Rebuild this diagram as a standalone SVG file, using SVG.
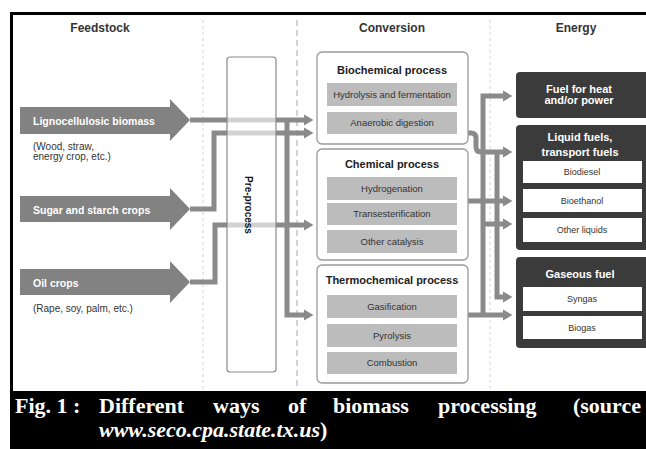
<svg xmlns="http://www.w3.org/2000/svg" width="646" height="449" viewBox="0 0 646 449">
<defs>
<style>
.hdr{font-family:"Liberation Sans",Arial,sans-serif;font-weight:bold;font-size:12px;fill:#333;text-anchor:middle}
.fs{fill:#828282}
.fsl{font-family:"Liberation Sans",Arial,sans-serif;font-weight:bold;font-size:10.5px;fill:#fff}
.note{font-family:"Liberation Sans",Arial,sans-serif;font-size:10px;fill:#333}
.cbox{fill:#fff;stroke:#9a9a9a;stroke-width:1.3}
.ctitle{font-family:"Liberation Sans",Arial,sans-serif;font-weight:bold;font-size:11px;fill:#222;text-anchor:middle}
.sub{fill:#bcbcbc}
.subt{font-family:"Liberation Sans",Arial,sans-serif;font-size:9.5px;fill:#333;text-anchor:middle}
.ebox{fill:#3b3b3b}
.etitle{font-family:"Liberation Sans",Arial,sans-serif;font-weight:bold;font-size:11px;fill:#fff;text-anchor:middle}
.wbox{fill:#fff}
.wt{font-family:"Liberation Sans",Arial,sans-serif;font-size:9px;fill:#333;text-anchor:middle}
.conn{fill:none;stroke:#8a8a8a;stroke-width:5;marker-end:url(#ah)}
.cap{font-family:"Liberation Serif","Times New Roman",serif;font-weight:bold;font-size:22px;fill:#fff}
</style>
<marker id="ah" markerUnits="userSpaceOnUse" markerWidth="10" markerHeight="12" refX="0" refY="6" orient="auto" viewBox="0 0 10 12">
<path d="M0,0.5 L9.5,6 L0,11.5 z" fill="#8a8a8a"/>
</marker>
</defs>
<rect x="0" y="0" width="646" height="449" fill="#fff"/>
<path d="M11.5,392 V13.5 H646" fill="none" stroke="#000" stroke-width="3"/>
<g id="dividers">
<line x1="203" y1="20" x2="203" y2="389" stroke="#d4d4d4" stroke-width="1" stroke-dasharray="3 3"/>
<line x1="297" y1="20" x2="297" y2="389" stroke="#a8a8a8" stroke-width="1" stroke-dasharray="6 4"/>
<line x1="490" y1="20" x2="490" y2="389" stroke="#d4d4d4" stroke-width="1" stroke-dasharray="3 3"/>
</g>
<g id="headers">
<text class="hdr" x="100" y="32">Feedstock</text>
<text class="hdr" x="392" y="32">Conversion</text>
<text class="hdr" x="576" y="32">Energy</text>
</g>
<g id="connectors">
<path class="conn" d="M190,120 H304"/>
<path class="conn" d="M190,209 H214 V133 H304"/>
<path class="conn" d="M287,120 V315 H304"/>
<path class="conn" d="M190,282 H215 V225 H304"/>
<path class="conn" d="M468,315 H503"/>
<path class="conn" d="M483,315 V96 H503"/>
<path class="conn" d="M468,133 H471 Q476,133 476,138 V147 Q476,152 481,152 H503"/>
<path class="conn" d="M497,152 V297 H503"/>
<path class="conn" d="M468,201 H503"/>
<path class="conn" d="M483,224 H503"/>
</g>
<g id="lignocellulosic">
<path class="fs" d="M20,107 H170 V99 L190,120 L170,141 V134 H20 z"/>
<text class="fsl" x="33" y="125">Lignocellulosic biomass</text>
<text class="note" x="33" y="149.5">(Wood, straw,</text>
<text class="note" x="33" y="160">energy crop, etc.)</text>
</g>
<g id="sugar">
<path class="fs" d="M20,196 H170 V188 L190,209 L170,230 V222 H20 z"/>
<text class="fsl" x="33" y="213.5">Sugar and starch crops</text>
</g>
<g id="oil">
<path class="fs" d="M20,269 H170 V261 L190,282 L170,303 V295 H20 z"/>
<text class="fsl" x="33" y="286.5">Oil crops</text>
<text class="note" x="33" y="312">(Rape, soy, palm, etc.)</text>
</g>
<g id="preprocess">
<rect x="227" y="57" width="49" height="315" rx="3" fill="#fff" fill-opacity="0.62" stroke="#8a8a8a" stroke-width="1.2"/>
<text transform="translate(248,205) rotate(90)" font-family="Liberation Sans, Arial, sans-serif" font-weight="bold" font-size="10" fill="#111" text-anchor="middle" dominant-baseline="central">Pre-process</text>
</g>
<g id="biochemical">
<rect class="cbox" x="317" y="52" width="151" height="92" rx="5"/>
<text class="ctitle" x="392" y="74">Biochemical process</text>
<rect class="sub" x="327" y="83" width="130" height="23"/>
<text class="subt" x="392" y="97.5" font-size="8.5">Hydrolysis and fermentation</text>
<rect class="sub" x="327" y="112" width="130" height="22"/>
<text class="subt" x="392" y="126.3">Anaerobic digestion</text>
</g>
<g id="chemical">
<rect class="cbox" x="317" y="149" width="151" height="111" rx="5"/>
<text class="ctitle" x="392" y="168">Chemical process</text>
<rect class="sub" x="327" y="177" width="130" height="23"/>
<text class="subt" x="392" y="191.8">Hydrogenation</text>
<rect class="sub" x="327" y="203" width="130" height="22"/>
<text class="subt" x="392" y="217.3">Transesterification</text>
<rect class="sub" x="327" y="230" width="130" height="23"/>
<text class="subt" x="392" y="244.8">Other catalysis</text>
</g>
<g id="thermochemical">
<rect class="cbox" x="317" y="265" width="151" height="118" rx="5"/>
<text class="ctitle" x="392" y="284">Thermochemical process</text>
<rect class="sub" x="327" y="295" width="130" height="23"/>
<text class="subt" x="392" y="309.8">Gasification</text>
<rect class="sub" x="327" y="324" width="130" height="23"/>
<text class="subt" x="392" y="338.8">Pyrolysis</text>
<rect class="sub" x="327" y="352" width="130" height="22"/>
<text class="subt" x="392" y="366.3">Combustion</text>
</g>
<g id="heat">
<rect class="ebox" x="516" y="72" width="136" height="46" rx="4"/>
<text class="etitle" x="579" y="93">Fuel for heat</text>
<text class="etitle" x="579" y="104">and/or power</text>
</g>
<g id="liquid">
<rect class="ebox" x="516" y="125" width="136" height="125" rx="4"/>
<text class="etitle" x="580" y="141">Liquid fuels,</text>
<text class="etitle" x="580" y="155.5">transport fuels</text>
<rect class="wbox" x="523" y="161" width="119" height="22"/>
<text class="wt" x="582" y="175.2">Biodiesel</text>
<rect class="wbox" x="523" y="189" width="119" height="23"/>
<text class="wt" x="582" y="203.7">Bioethanol</text>
<rect class="wbox" x="523" y="218" width="119" height="24"/>
<text class="wt" x="582" y="233.2">Other liquids</text>
</g>
<g id="gaseous">
<rect class="ebox" x="516" y="257" width="136" height="91" rx="4"/>
<text class="etitle" x="580" y="278">Gaseous fuel</text>
<rect class="wbox" x="523" y="287" width="119" height="24"/>
<text class="wt" x="582" y="302.2">Syngas</text>
<rect class="wbox" x="523" y="316" width="119" height="23"/>
<text class="wt" x="582" y="330.7">Biogas</text>
</g>
<g id="caption">
<rect x="10" y="391" width="636" height="58" fill="#000"/>
<text class="cap" y="413"><tspan x="15">Fig. 1 :</tspan><tspan x="99">Different</tspan><tspan x="213">ways</tspan><tspan x="288">of</tspan><tspan x="333">biomass</tspan><tspan x="438">processing</tspan></text>
<text class="cap" x="641" y="413" text-anchor="end">(source</text>
<text class="cap" x="99" y="437"><tspan font-style="italic">www.seco.cpa.state.tx.us</tspan>)</text>
</g>
</svg>
